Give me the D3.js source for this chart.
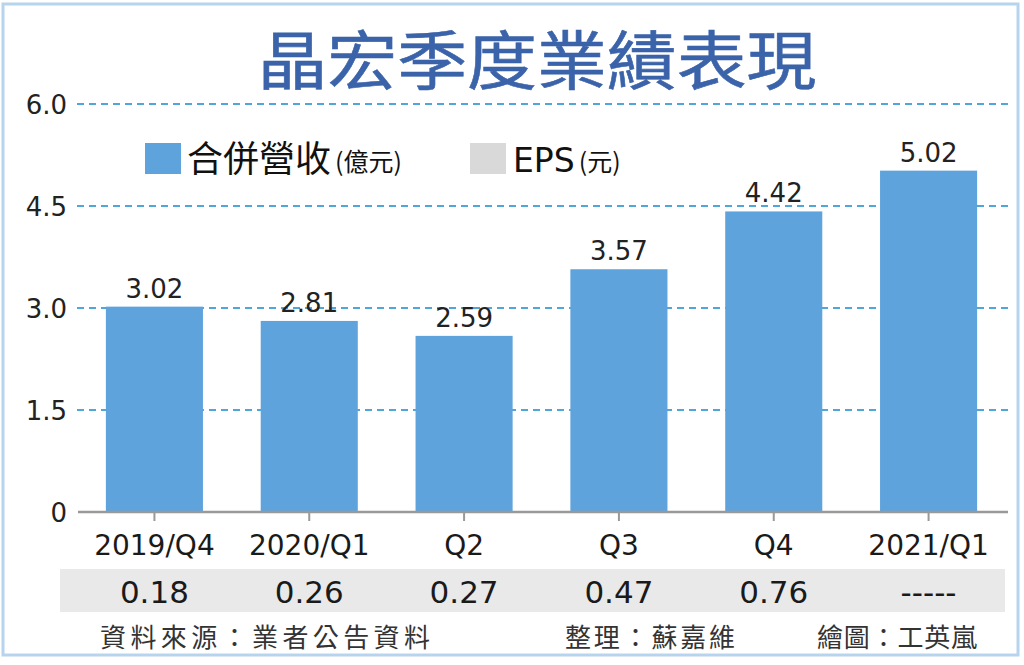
<!DOCTYPE html>
<html>
<head>
<meta charset="utf-8">
<script src="https://cdn.jsdelivr.net/npm/d3@7/dist/d3.min.js"></script>
<style>
html,body{margin:0;padding:0;background:#fff;}
svg{display:block;}
</style>
</head>
<body>
<svg id="chart" width="1024" height="665"></svg>
<script>
const title = "晶宏季度業績表現";
const categories = ["2019/Q4", "2020/Q1", "Q2", "Q3", "Q4", "2021/Q1"];
const revenue = [3.02, 2.81, 2.59, 3.57, 4.42, 5.02];
const eps = [0.18, 0.26, 0.27, 0.47, 0.76, null];
const yTicks = [0, 1.5, 3.0, 4.5, 6.0];
const yTickLabels = ["0", "1.5", "3.0", "4.5", "6.0"];
const legendNames = ["合併營收", "EPS"];
const legendUnits = ["(億元)", "(元)"];
const footer = ["資料來源：業者公告資料", "整理：蘇嘉維", "繪圖：工英嵐"];

const svg = d3.select("#chart");
const latin = "'DejaVu Sans', sans-serif";
const cjk = "'Noto Sans CJK TC', 'Noto Sans CJK SC', sans-serif";
const barColor = "#5fa3dd";
const gridColor = "#4fa6d8";

// border
svg.append("rect").attr("x", 3).attr("y", 4).attr("width", 1015).attr("height", 651)
  .attr("fill", "#fff").attr("stroke", "#b7d4ef").attr("stroke-width", 3);

// title
svg.append("text").attr("x", 537).attr("y", 84).attr("text-anchor", "middle")
  .attr("font-family", cjk).attr("font-size", 64).attr("font-weight", "normal")
  .attr("fill", "#3b63aa").attr("stroke", "#3b63aa").attr("stroke-width", 0.6)
  .attr("textLength", 559).attr("lengthAdjust", "spacingAndGlyphs")
  .text(title);

const x = d3.scaleBand().domain(categories).range([77, 1006]).paddingInner(0.373).paddingOuter(0.1865);
const y = d3.scaleLinear().domain([0, 6]).range([512, 104]);

// grid lines
svg.append("g").selectAll("line").data(yTicks.filter(d => d > 0)).join("line")
  .attr("x1", 77).attr("x2", 1008)
  .attr("y1", d => y(d)).attr("y2", d => y(d))
  .attr("stroke", gridColor).attr("stroke-width", 2).attr("stroke-dasharray", "7,5");

// y axis labels
const yAxis = d3.axisLeft(y).tickValues(yTicks).tickSize(0).tickPadding(10)
  .tickFormat((d, i) => yTickLabels[i]);
const gy = svg.append("g").attr("transform", "translate(77,0)").call(yAxis);
gy.select(".domain").remove();
gy.selectAll("text").attr("font-family", latin).attr("font-size", 26).attr("fill", "#222").attr("dy", "0.36em");

// bars
svg.append("g").selectAll("rect").data(revenue).join("rect")
  .attr("x", (d, i) => x(categories[i]))
  .attr("width", x.bandwidth())
  .attr("y", d => y(d))
  .attr("height", d => y(0) - y(d))
  .attr("fill", barColor);

// value labels
svg.append("g").selectAll("text").data(revenue).join("text")
  .attr("x", (d, i) => x(categories[i]) + x.bandwidth() / 2)
  .attr("y", d => y(d) - 9)
  .attr("text-anchor", "middle")
  .attr("font-family", latin).attr("font-size", 26).attr("fill", "#222")
  .text(d => d.toFixed(2));

// x axis
const xAxis = d3.axisBottom(x).tickSize(9).tickSizeOuter(0).tickPadding(14);
const gx = svg.append("g").attr("transform", "translate(0,512)").call(xAxis);
gx.select(".domain").remove();
gx.selectAll(".tick line").attr("stroke", "#999").attr("stroke-width", 2);
gx.selectAll("text").attr("font-family", latin).attr("font-size", 28).attr("fill", "#1a1a1a");
svg.append("line").attr("x1", 78).attr("x2", 1008).attr("y1", 512).attr("y2", 512)
  .attr("stroke", "#999").attr("stroke-width", 2.5);

// EPS row
svg.append("rect").attr("x", 60).attr("y", 569).attr("width", 945).attr("height", 43).attr("fill", "#e9e9e9");
svg.append("g").selectAll("text").data(eps).join("text")
  .attr("x", (d, i) => x(categories[i]) + x.bandwidth() / 2)
  .attr("y", 603)
  .attr("text-anchor", "middle")
  .attr("font-family", latin).attr("font-size", 31).attr("fill", "#1a1a1a")
  .text(d => d === null ? "-----" : d.toFixed(2));

// legend
const legendX = [145, 470];
const legendColors = [barColor, "#d9d9d9"];
legendNames.forEach((name, i) => {
  svg.append("rect").attr("x", legendX[i]).attr("y", 143).attr("width", 36).attr("height", 31).attr("fill", legendColors[i]);
  const t = svg.append("text").attr("x", legendX[i] + (i === 0 ? 42 : 43)).attr("y", 172).attr("fill", "#111");
  t.append("tspan").attr("font-family", i === 0 ? cjk : latin).attr("font-size", i === 0 ? 36 : 33).text(name);
  t.append("tspan").attr("font-family", cjk).attr("font-size", 25).attr("dx", 4).attr("dy", -1).text(legendUnits[i]);
});

// footer
const footX = [100, 565, 817];
const footW = [330, 170, 160];
footer.forEach((s, i) => {
  svg.append("text").attr("x", footX[i]).attr("y", 647)
    .attr("font-family", cjk).attr("font-size", 26).attr("fill", "#333")
    .attr("textLength", footW[i]).attr("lengthAdjust", "spacing")
    .text(s);
});
</script>
</body>
</html>
